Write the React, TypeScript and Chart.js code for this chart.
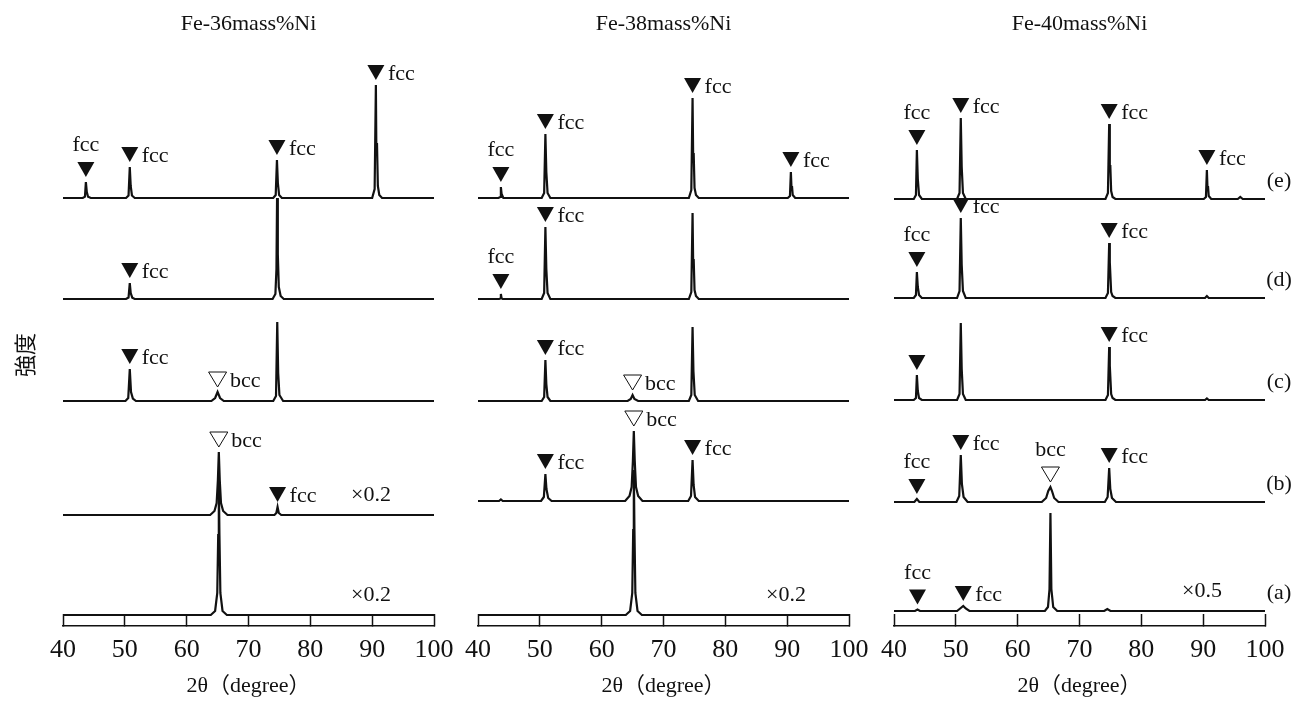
import { useEffect, useRef } from "react";
import { Chart, registerables } from "chart.js";

Chart.register(...registerables);

const FONT = "'Liberation Serif', 'Times New Roman', 'Noto Sans CJK JP', serif";
Chart.defaults.font.family = FONT;
Chart.defaults.color = "#111";

// ---------- axis / labels ----------
const X_MIN = 40;
const X_MAX = 100;
const X_STEP = 10;
const Y_MIN = 0;
const Y_MAX = 542; // arbitrary intensity units
const X_TITLE = "2θ（degree）";
const Y_TITLE = "強度";
const TRACE_NAMES = ["(a)", "(b)", "(c)", "(d)", "(e)"];
const PANEL_TITLES = ["Fe-36mass%Ni", "Fe-38mass%Ni", "Fe-40mass%Ni"];

// ---------- vertical offsets of traces (a)..(e) ----------
const OFFSETS_36 = [11, 111, 225, 327, 428];
const OFFSETS_38 = [11, 125, 225, 327, 428];
const OFFSETS_40 = [15, 124, 226, 328, 427];

// ---------- Fe-36mass%Ni traces [2θ, intensity] ----------
const FE36_A = [[40, 0], [63.9, 0], [64.6, 4], [64.95, 22], [65.1, 80], [65.2, 135], [65.3, 80], [65.45, 22], [65.8, 4], [66.5, 0], [100, 0]];
const FE36_B = [[40, 0], [63.8, 0], [64.5, 4], [64.85, 12], [65.05, 35], [65.2, 63], [65.35, 35], [65.55, 12], [65.9, 4], [66.6, 0], [74.2, 0], [74.5, 2], [74.7, 8], [74.9, 2], [75.3, 0], [100, 0]];
const FE36_C = [[40, 0], [50.1, 0], [50.55, 3], [50.8, 32], [51.0, 9], [51.3, 2.5], [51.8, 0], [64.0, 0], [64.6, 3], [65.0, 9], [65.4, 3], [66.0, 0], [74.0, 0], [74.45, 5], [74.65, 79], [74.8, 28], [75.0, 6], [75.6, 0], [100, 0]];
const FE36_D = [[40, 0], [50.2, 0], [50.6, 1.5], [50.8, 16], [50.95, 6], [51.2, 1.3], [51.6, 0], [73.9, 0], [74.35, 5], [74.52, 30], [74.62, 101], [74.74, 45], [74.9, 12], [75.2, 3], [75.7, 0], [100, 0]];
const FE36_E = [[40, 0], [43.2, 0], [43.55, 1.3], [43.7, 16], [43.85, 6], [44.05, 1.3], [44.5, 0], [50.2, 0], [50.6, 2.5], [50.8, 31], [50.95, 12], [51.15, 2.5], [51.6, 0], [74.0, 0], [74.4, 3], [74.6, 38], [74.75, 15], [74.95, 3], [75.4, 0], [90.0, 0], [90.4, 9], [90.6, 113], [90.68, 45], [90.78, 55], [90.92, 12], [91.15, 3], [91.6, 0], [100, 0]];

// ---------- Fe-38mass%Ni traces ----------
const FE38_A = [[40, 0], [63.9, 0], [64.6, 4], [64.95, 22], [65.1, 85], [65.2, 145], [65.3, 85], [65.45, 22], [65.8, 4], [66.5, 0], [100, 0]];
const FE38_B = [[40, 0], [43.4, 0], [43.7, 1.5], [44.0, 0], [50.2, 0], [50.65, 4], [50.9, 27], [51.07, 12], [51.35, 3], [51.9, 0], [63.8, 0], [64.5, 5], [64.85, 14], [65.05, 40], [65.2, 70], [65.35, 40], [65.55, 14], [65.9, 5], [66.6, 0], [74.0, 0], [74.45, 5], [74.7, 41], [74.87, 16], [75.1, 4], [75.7, 0], [100, 0]];
const FE38_C = [[40, 0], [50.3, 0], [50.7, 4], [50.9, 41], [51.05, 17], [51.25, 4], [51.7, 0], [64.2, 0], [64.7, 2], [65.0, 6], [65.3, 2], [65.9, 0], [74.1, 0], [74.5, 6], [74.7, 74], [74.84, 30], [75.05, 6], [75.6, 0], [100, 0]];
const FE38_D = [[40, 0], [43.4, 0], [43.6, 0.5], [43.7, 5], [43.8, 1], [44.0, 0], [50.3, 0], [50.7, 6], [50.9, 72], [51.05, 30], [51.25, 6], [51.7, 0], [74.1, 0], [74.5, 7], [74.7, 86], [74.8, 35], [74.88, 40], [75.02, 9], [75.25, 3], [75.7, 0], [100, 0]];
const FE38_E = [[40, 0], [43.3, 0], [43.6, 1], [43.7, 11], [43.82, 4], [44.1, 0], [50.3, 0], [50.7, 5], [50.9, 64], [51.05, 26], [51.25, 5], [51.7, 0], [74.1, 0], [74.5, 8], [74.7, 100], [74.8, 40], [74.88, 45], [75.02, 10], [75.25, 3], [75.7, 0], [90.1, 0], [90.45, 2], [90.6, 26], [90.7, 10], [90.78, 12], [90.9, 3], [91.3, 0], [100, 0]];

// ---------- Fe-40mass%Ni traces ----------
const FE40_A = [[40, 0], [43.4, 0], [43.8, 1.5], [44.2, 0], [50.2, 0], [50.8, 3], [51.2, 5], [51.6, 2.5], [52.2, 0], [64.4, 0], [64.9, 4], [65.15, 22], [65.3, 98], [65.45, 22], [65.75, 4], [66.4, 0], [74.0, 0], [74.5, 2], [75.0, 0], [100, 0]];
const FE40_B = [[40, 0], [43.3, 0], [43.7, 3], [44.1, 0], [50.1, 0], [50.55, 6], [50.8, 47], [50.98, 18], [51.25, 5], [51.9, 0], [63.9, 0], [64.6, 4], [64.95, 11], [65.3, 15], [65.55, 11], [65.9, 4], [66.6, 0], [74.1, 0], [74.55, 5], [74.8, 34], [74.98, 13], [75.25, 4], [75.9, 0], [100, 0]];
const FE40_C = [[40, 0], [43.2, 0], [43.55, 2], [43.7, 25], [43.85, 9], [44.05, 2], [44.5, 0], [50.2, 0], [50.6, 6], [50.8, 77], [50.95, 31], [51.15, 6], [51.6, 0], [74.2, 0], [74.6, 5], [74.8, 53], [74.9, 21], [74.98, 24], [75.12, 6], [75.35, 2], [75.8, 0], [90.3, 0], [90.6, 1.5], [90.9, 0], [100, 0]];
const FE40_D = [[40, 0], [43.2, 0], [43.55, 3], [43.7, 26], [43.85, 11], [44.05, 3], [44.5, 0], [50.2, 0], [50.6, 7], [50.8, 80], [50.95, 33], [51.15, 7], [51.6, 0], [74.2, 0], [74.6, 5], [74.8, 55], [74.9, 22], [74.98, 25], [75.12, 6], [75.35, 2], [75.8, 0], [90.3, 0], [90.6, 2], [90.9, 0], [100, 0]];
const FE40_E = [[40, 0], [43.2, 0], [43.55, 4], [43.7, 49], [43.85, 20], [44.05, 4], [44.5, 0], [50.2, 0], [50.6, 6], [50.8, 81], [50.95, 32], [51.15, 6], [51.6, 0], [74.2, 0], [74.6, 6], [74.8, 75], [74.9, 30], [74.98, 34], [75.12, 8], [75.35, 2], [75.8, 0], [90.1, 0], [90.45, 2], [90.6, 29], [90.7, 11], [90.78, 13], [90.9, 3], [91.3, 0], [95.6, 0], [96.0, 2], [96.4, 0], [100, 0]];

// ---------- peak markers: [trace index (0=a), 2θ, phase, label placement] ----------
// placement: R = text right of triangle, A = text above, N = triangle only
const MARKS_36 = [
  [4, 43.7, "fcc", "A"], [4, 50.8, "fcc", "R"], [4, 74.6, "fcc", "R"], [4, 90.6, "fcc", "R"],
  [3, 50.8, "fcc", "R"],
  [2, 50.8, "fcc", "R"], [2, 65.0, "bcc", "R"],
  [1, 65.2, "bcc", "R"], [1, 74.7, "fcc", "R"],
];
const MARKS_38 = [
  [4, 43.7, "fcc", "A"], [4, 50.9, "fcc", "R"], [4, 74.7, "fcc", "R"], [4, 90.6, "fcc", "R"],
  [3, 43.7, "fcc", "A"], [3, 50.9, "fcc", "R"],
  [2, 50.9, "fcc", "R"], [2, 65.0, "bcc", "R"],
  [1, 50.9, "fcc", "R"], [1, 65.2, "bcc", "R"], [1, 74.7, "fcc", "R"],
];
const MARKS_40 = [
  [4, 43.7, "fcc", "A"], [4, 50.8, "fcc", "R"], [4, 74.8, "fcc", "R"], [4, 90.6, "fcc", "R"],
  [3, 43.7, "fcc", "A"], [3, 50.8, "fcc", "R"], [3, 74.8, "fcc", "R"],
  [2, 43.7, "fcc", "N"], [2, 74.8, "fcc", "R"],
  [1, 43.7, "fcc", "A"], [1, 50.8, "fcc", "R"], [1, 65.3, "bcc", "A"], [1, 74.8, "fcc", "R"],
  [0, 43.8, "fcc", "A"], [0, 51.2, "fcc", "R"],
];

// ---------- scale factors: [trace index, text] ----------
const FACTORS_36 = [[1, "×0.2"], [0, "×0.2"]];
const FACTORS_38 = [[0, "×0.2"]];
const FACTORS_40 = [[0, "×0.5"]];
const FACTOR_X = 89.8;

type Panel = {
  title: string;
  traces: number[][][];
  offsets: number[];
  marks: any[];
  factors: any[];
  left: number;
  width: number;
  padL: number;
  padR: number;
  showY: boolean;
  showNames: boolean;
};

const PANELS: Panel[] = [
  { title: PANEL_TITLES[0], traces: [FE36_A, FE36_B, FE36_C, FE36_D, FE36_E], offsets: OFFSETS_36, marks: MARKS_36, factors: FACTORS_36, left: 0, width: 470, padL: 8, padR: 36, showY: true, showNames: false },
  { title: PANEL_TITLES[1], traces: [FE38_A, FE38_B, FE38_C, FE38_D, FE38_E], offsets: OFFSETS_38, marks: MARKS_38, factors: FACTORS_38, left: 455, width: 425, padL: 23, padR: 31, showY: false, showNames: false },
  { title: PANEL_TITLES[2], traces: [FE40_A, FE40_B, FE40_C, FE40_D, FE40_E], offsets: OFFSETS_40, marks: MARKS_40, factors: FACTORS_40, left: 870, width: 435, padL: 24, padR: 40, showY: false, showNames: true },
];

const INK = "#111";
const FIG_H = 706;

function makeMarksPlugin(p: Panel) {
  return {
    id: "xrdMarks",
    afterDatasetsDraw(chart: any) {
      const { ctx, chartArea } = chart;
      const xs = chart.scales.x;
      const ys = chart.scales.y;
      ctx.save();
      ctx.fillStyle = INK;
      ctx.strokeStyle = INK;
      ctx.font = `22px ${FONT}`;
      ctx.textBaseline = "alphabetic";
      for (const [ti, x, phase, place] of p.marks) {
        let top = 0;
        for (const [tx, tv] of p.traces[ti]) {
          if (Math.abs(tx - x) <= 0.4 && tv > top) top = tv;
        }
        const px = xs.getPixelForValue(x);
        const tip = ys.getPixelForValue(p.offsets[ti] + top) - 5;
        const hw = phase === "fcc" ? 8.5 : 9;
        const h = 15;
        ctx.beginPath();
        ctx.moveTo(px - hw, tip - h);
        ctx.lineTo(px + hw, tip - h);
        ctx.lineTo(px, tip);
        ctx.closePath();
        if (phase === "fcc") {
          ctx.fill();
        } else {
          ctx.lineWidth = 1;
          ctx.stroke();
        }
        if (place === "R") {
          ctx.textAlign = "left";
          ctx.fillText(phase, px + hw + 3.5, tip);
        } else if (place === "A") {
          ctx.textAlign = "center";
          ctx.fillText(phase, px, tip - h - 11);
        }
      }
      for (const [ti, text] of p.factors) {
        ctx.textAlign = "center";
        ctx.fillText(text, xs.getPixelForValue(FACTOR_X), ys.getPixelForValue(p.offsets[ti]) - 14);
      }
      if (p.showNames) {
        ctx.textAlign = "center";
        ctx.textBaseline = "middle";
        p.offsets.forEach((off, i) => {
          ctx.fillText(TRACE_NAMES[i], chartArea.right + 14, ys.getPixelForValue(off) - 18);
        });
      }
      ctx.restore();
    },
  };
}

function XrdPanel({ p }: { p: Panel }) {
  const ref = useRef<HTMLCanvasElement>(null);
  useEffect(() => {
    const canvas = ref.current;
    if (!canvas) return;
    const chart = new Chart(canvas, {
      type: "line",
      data: {
        datasets: p.traces.map((t, i) => ({
          label: TRACE_NAMES[i],
          data: t.map(([x, v]) => ({ x, y: v + p.offsets[i] })),
          borderColor: INK,
          borderWidth: 2.2,
          pointRadius: 0,
          tension: 0,
          fill: false,
          clip: false,
        })),
      },
      options: {
        responsive: false,
        animation: false,
        events: [],
        layout: { padding: { left: p.padL, right: p.padR, top: 0, bottom: 0 } },
        plugins: {
          legend: { display: false },
          tooltip: { enabled: false },
          title: {
            display: true,
            text: p.title,
            fullSize: false,
            color: INK,
            font: { family: FONT, size: 22, weight: "normal" },
            padding: { top: 10.8, bottom: 46.8 },
          },
        },
        scales: {
          x: {
            type: "linear",
            min: X_MIN,
            max: X_MAX,
            afterFit: (s: any) => {
              s.height = 80;
              s.paddingLeft = 0;
              s.paddingRight = 0;
            },
            ticks: {
              stepSize: X_STEP,
              autoSkip: false,
              maxRotation: 0,
              color: INK,
              padding: 20.6,
              font: { family: FONT, size: 26 },
            },
            grid: {
              display: true,
              drawOnChartArea: false,
              drawTicks: true,
              tickLength: -12,
              tickColor: INK,
              tickWidth: 1.5,
            },
            border: { display: true, color: INK, width: 1.5 },
            title: {
              display: true,
              text: X_TITLE,
              color: INK,
              font: { family: FONT, size: 22 },
              padding: { top: 0, bottom: 7 },
            },
          },
          y: {
            type: "linear",
            min: Y_MIN,
            max: Y_MAX,
            display: p.showY,
            ticks: { display: false },
            grid: { display: false, drawTicks: false },
            border: { display: false },
            title: {
              display: p.showY,
              text: Y_TITLE,
              color: INK,
              font: { family: FONT, size: 22 },
              padding: { top: 5.8, bottom: 22.8 },
            },
          },
        },
      },
      plugins: [makeMarksPlugin(p)],
    } as any);
    return () => chart.destroy();
  }, [p]);
  return (
    <canvas
      ref={ref}
      width={p.width}
      height={FIG_H}
      style={{ position: "absolute", left: p.left, top: 0, width: p.width, height: FIG_H }}
    />
  );
}

export default function App() {
  return (
    <div style={{ position: "absolute", left: 0, top: 0, width: 1305, height: FIG_H, background: "#fff", overflow: "hidden" }}>
      {PANELS.map((p, i) => (
        <XrdPanel key={i} p={p} />
      ))}
    </div>
  );
}
